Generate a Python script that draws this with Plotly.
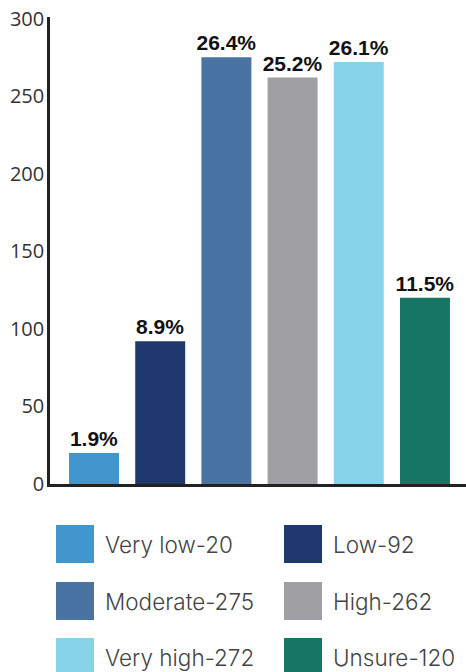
import plotly.graph_objects as go

# Survey response counts by rating level
categories = ["Very low", "Low", "Moderate", "High", "Very high", "Unsure"]
counts = [20, 92, 275, 262, 272, 120]
percent_labels = ["1.9%", "8.9%", "26.4%", "25.2%", "26.1%", "11.5%"]
colors = ["#4196CE", "#1F396E", "#4873A3", "#A0A0A4", "#87D3E9", "#177563"]
y_ticks = [0, 50, 100, 150, 200, 250, 300]

W, H = 466, 672
M_L, M_R, M_T, M_B = 50, 0, 17, 188
PLOT_W = W - M_L - M_R
PLOT_H = H - M_T - M_B


def px_to_paper(px, py):
    return (px - M_L) / PLOT_W, (H - M_B - py) / PLOT_H


fig = go.Figure()
fig.add_trace(go.Bar(
    x=categories,
    y=counts,
    marker=dict(color=colors, line=dict(width=0)),
    width=0.755,
    text=[f"<b>{p}</b>" for p in percent_labels],
    textposition="outside",
    constraintext="none",
    textfont=dict(family="Liberation Sans, Arial, sans-serif", size=21, color="#111111"),
    cliponaxis=False,
    showlegend=False,
    hoverinfo="x+y",
))

# Legend drawn as a two-column grid of swatches and labels
sw = 38
col_x = [56, 284]
row_y = [525, 582, 638]
for i, (cat, val, col) in enumerate(zip(categories, counts, colors)):
    r, c = divmod(i, 2)
    x0, y0 = px_to_paper(col_x[c], row_y[r])
    x1, y1 = px_to_paper(col_x[c] + sw, row_y[r] + sw)
    fig.add_shape(type="rect", xref="paper", yref="paper",
                  x0=x0, x1=x1, y0=y1, y1=y0,
                  fillcolor=col, line=dict(width=0), layer="above")
    tx, ty = px_to_paper(col_x[c] + sw + 9, row_y[r] + sw / 2)
    fig.add_annotation(xref="paper", yref="paper", x=tx, y=ty,
                       xanchor="left", yanchor="middle", showarrow=False,
                       text=f"{cat}-{val}",
                       font=dict(family="Inter, sans-serif", size=22.5,
                                 color="#444444", weight=300))

fig.update_layout(
    width=W, height=H,
    margin=dict(l=M_L, r=M_R, t=M_T, b=M_B),
    paper_bgcolor="white", plot_bgcolor="white",
    bargap=0.245,
    xaxis=dict(
        range=[-0.665, 5.62],
        showticklabels=False, ticks="",
        showgrid=False, zeroline=False,
        showline=True, linecolor="#222222", linewidth=3,
    ),
    yaxis=dict(
        range=[0, 301],
        tickvals=y_ticks,
        ticks="outside", ticklen=0, tickcolor="rgba(0,0,0,0)",
        ticklabelstandoff=-1,
        tickfont=dict(family="Open Sans, sans-serif", size=20, color="#333333"),
        showgrid=False, zeroline=False,
        showline=True, linecolor="#222222", linewidth=2.5,
    ),
)

fig.write_html("out.html")
